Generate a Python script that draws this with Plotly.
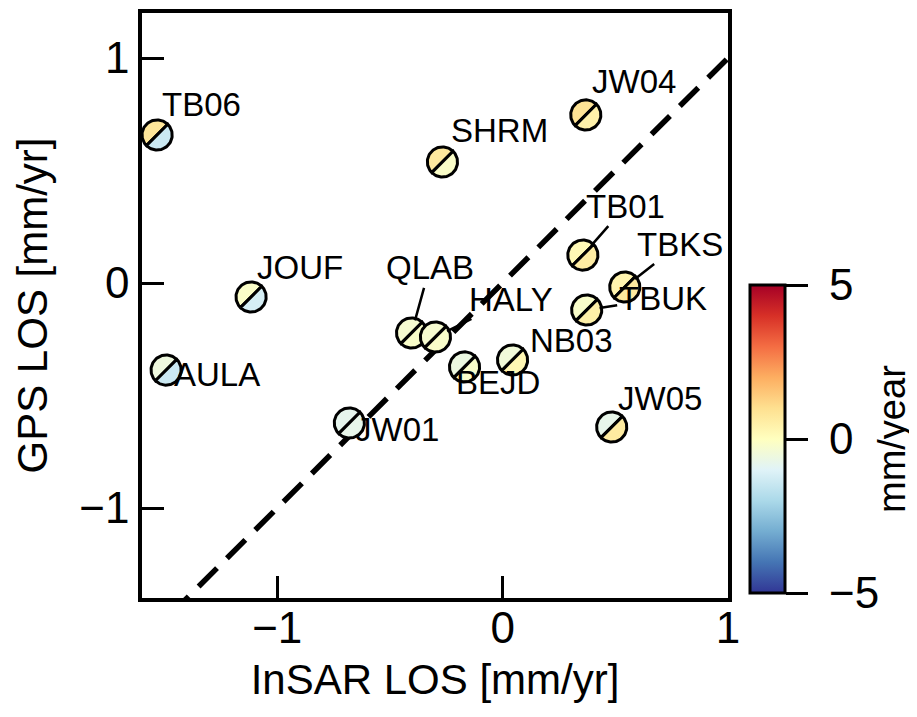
import numpy as np
import plotly.graph_objects as go
import plotly.express as px
from plotly.colors import make_colorscale, sample_colorscale

# ---------------- data ----------------
stations = ["TB06", "JOUF", "AULA", "QLAB", "HALY", "BEJD", "NB03",
            "JW04", "SHRM", "TB01", "TBKS", "TBUK", "JW01", "JW05"]
insar_los = [-1.533, -1.116, -1.493, -0.404, -0.298, -0.169, 0.044,
             0.369, -0.267, 0.356, 0.542, 0.373, -0.680, 0.484]
gps_los = [0.658, -0.062, -0.387, -0.222, -0.240, -0.373, -0.342,
           0.747, 0.538, 0.124, -0.018, -0.120, -0.622, -0.640]
# colour values (mm/year) for the upper-left and lower-right halves of each marker
upper_vals = [0.80, -0.15, -0.55, -0.30, -0.30, -0.60, -0.45,
              0.90, 0.70, 0.20, 0.35, -0.20, -0.80, -0.75]
lower_vals = [-1.40, -1.20, -1.40, -0.20, -0.20, -0.20, 0.25,
              0.45, -0.15, 0.60, 0.70, 0.50, -0.75, 0.65]
one_to_one = [-1.6, 1.2]
x_ticks = [-1, 0, 1]
y_ticks = [-1, 0, 1]
cbar_ticks = [-5, 0, 5]
cbar_ticktext = ["\u00a0" + str(v).replace("-", "\u2212") for v in cbar_ticks]
cmin, cmax = -5, 5

# ---------------- styles ----------------
FONT = "Liberation Sans, Arial, Helvetica, sans-serif"
R = 0.067  # marker radius in data units
# label offsets in pixels (dx right, dy down) and whether a leader line is drawn
label_style = {
    "TB06": (44, -30, False), "JOUF": (49, -29, False), "AULA": (51, 4, False),
    "QLAB": (18, -65, True), "HALY": (76, -38, True), "BEJD": (33, 16, False),
    "NB03": (59, -19, False), "JW04": (48, -33, False), "SHRM": (57, -31, False),
    "TB01": (43, -49, True), "TBKS": (55, -43, True), "TBUK": (76, -12, True),
    "JW01": (48, 7, False), "JW05": (48, -29, False),
}

cscale = make_colorscale(px.colors.diverging.RdYlBu[::-1])


def val_color(v):
    return sample_colorscale(cscale, [(v - cmin) / (cmax - cmin)])[0]


fig = go.Figure()

# 1:1 dashed line
fig.add_trace(go.Scatter(x=one_to_one, y=one_to_one, mode="lines",
                         line=dict(color="black", width=5.5, dash="26px,14px"),
                         hoverinfo="skip", showlegend=False))

# split markers
for name, xv, yv, uv, lv in zip(stations, insar_los, gps_los, upper_vals, lower_vals):
    for a0, val in ((45, uv), (225, lv)):
        ang = np.deg2rad(np.linspace(a0, a0 + 180, 60))
        px_ = list(xv + R * np.cos(ang))
        py_ = list(yv + R * np.sin(ang))
        px_.append(px_[0])
        py_.append(py_[0])
        fig.add_trace(go.Scatter(x=px_, y=py_, mode="lines", fill="toself",
                                 fillcolor=val_color(val),
                                 line=dict(color="black", width=3),
                                 hoverinfo="skip", showlegend=False))

# colorbar carrier
fig.add_trace(go.Scatter(
    x=insar_los, y=gps_los, mode="markers", text=stations,
    marker=dict(size=1, opacity=0, color=upper_vals, colorscale=cscale,
                cmin=cmin, cmax=cmax, showscale=True,
                colorbar=dict(
                    x=(750 - 142) / 586, xanchor="left", xpad=0, ypad=0,
                    y=(598 - 439) / 585, yanchor="middle",
                    thicknessmode="pixels", thickness=35,
                    lenmode="pixels", len=308,
                    outlinewidth=3, outlinecolor="black",
                    tickmode="array", tickvals=cbar_ticks, ticktext=cbar_ticktext,
                    ticks="outside", ticklen=22,
                    tickwidth=3, tickcolor="black",
                    tickfont=dict(family=FONT, size=44, color="black"),
                )),
    showlegend=False, hoverinfo="text"))

# colorbar title
fig.add_annotation(xref="paper", yref="paper", x=(892 - 142) / 586,
                   y=(598 - 439) / 585, text="mm/year", textangle=-90,
                   showarrow=False, xanchor="center", yanchor="middle",
                   font=dict(family=FONT, size=38, color="black"))

# labels
for name, xv, yv in zip(stations, insar_los, gps_los):
    dx, dy, line = label_style[name]
    if line:
        fig.add_annotation(x=xv, y=yv, text=name, showarrow=True, arrowhead=0,
                           arrowwidth=2.5, arrowcolor="black", ax=dx, ay=dy,
                           standoff=13,
                           font=dict(family=FONT, size=33, color="black"))
    else:
        fig.add_annotation(x=xv, y=yv, text=name, showarrow=False,
                           xshift=dx, yshift=-dy,
                           font=dict(family=FONT, size=33, color="black"))

axis_common = dict(showgrid=False, zeroline=False, showline=True, mirror=True,
                   linecolor="black", linewidth=3.5, ticks="inside", ticklen=22,
                   tickwidth=3, tickcolor="black", automargin=False,
                   tickfont=dict(family=FONT, size=44, color="black"))

# the page body adds an 8 px offset, so the figure is 8 px smaller each way
fig.update_layout(
    width=909, height=709, autosize=False,
    margin=dict(l=134, r=189, t=5, b=119),
    plot_bgcolor="white", paper_bgcolor="white",
    font=dict(family=FONT, color="black"),
    xaxis=dict(range=[-1.6, 1.0], tickvals=x_ticks, ticklabelstandoff=-12,
               title=dict(text="InSAR LOS [mm/yr]",
                          font=dict(family=FONT, size=42, color="black")),
               **axis_common),
    yaxis=dict(range=[-1.4, 1.2], tickvals=y_ticks,
               title=dict(text="GPS LOS [mm/yr]", standoff=20,
                          font=dict(family=FONT, size=42, color="black")),
               **axis_common),
)

fig.write_html("out.html")
